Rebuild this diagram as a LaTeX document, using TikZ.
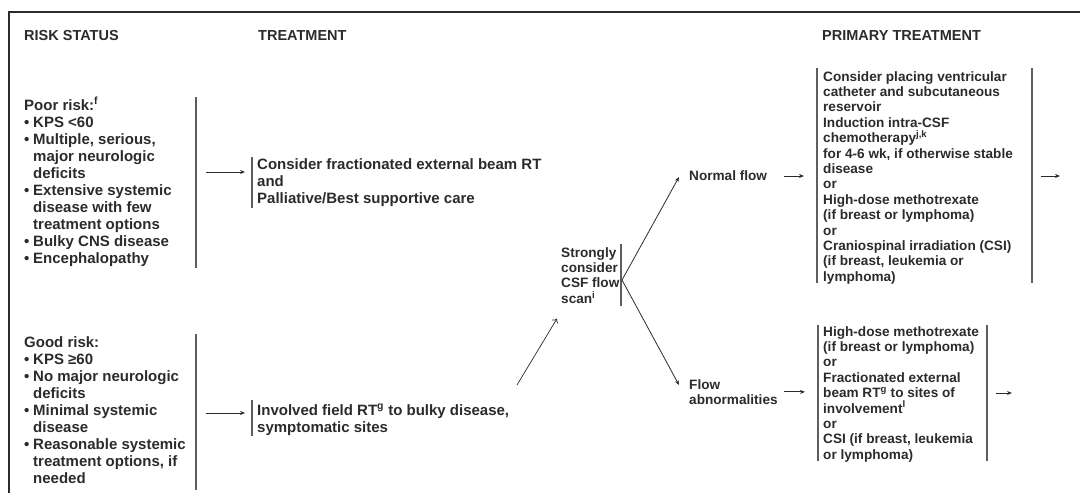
\documentclass[tikz,border=0pt]{standalone}
\usepackage{fontspec}
\setmainfont{Liberation Sans}
\usetikzlibrary{arrows.meta,calc}

\definecolor{ink}{HTML}{2B2B2B}
\definecolor{rule}{HTML}{5E5E5E}

\newcommand{\bul}{\makebox[9pt][l]{\textbullet}}
\newcommand{\ind}{\hspace*{9pt}}

\tikzset{
  txt/.style={font=\bfseries\fontsize{15}{17}\selectfont, text=ink, align=left,
    inner sep=0pt, anchor=north west},
  small/.style={txt, font=\bfseries\fontsize{13.6}{15.4}\selectfont},
  head/.style={txt, font=\bfseries\fontsize{14.5}{16}\selectfont},
  bar/.style={draw=rule, line width=1.3pt},
  frame/.style={draw=ink, line width=2pt},
  arr/.style={-{Stealth[length=5pt,width=4pt]}, draw=ink, line width=0.8pt},
  openarr/.style={-{To[length=4pt,width=7pt]}, draw=ink, line width=0.7pt}
}

\begin{document}
\begin{tikzpicture}[x=1pt,y=-1pt]
  \useasboundingbox (0,0) rectangle (1080,493);
  \draw[frame] (9,493) -- (9,12) -- (1080,12);

  % column heads
  \node[head] (hrisk) at (24,30) {RISK STATUS};
  \node[head] (htreat) at (258,30) {TREATMENT};
  \node[head] (hprim) at (822,30) {PRIMARY TREATMENT};

  % risk status
  \node[txt] (poor) at (24,97) {Poor risk:\textsuperscript{f}\\
    \bul KPS <60\\
    \bul Multiple, serious,\\
    \ind major neurologic\\
    \ind deficits\\
    \bul Extensive systemic\\
    \ind disease with few\\
    \ind treatment options\\
    \bul Bulky CNS disease\\
    \bul Encephalopathy};
  \node[txt] (good) at (24,336) {Good risk:\\
    \bul KPS ≥60\\
    \bul No major neurologic\\
    \ind deficits\\
    \bul Minimal systemic\\
    \ind disease\\
    \bul Reasonable systemic\\
    \ind treatment options, if\\
    \ind needed};
  \draw[bar] (196,97) -- (196,268);
  \draw[bar] (196,334) -- (196,490);
  \coordinate (pbar) at (196,172);
  \coordinate (gbar) at (196,413);

  % treatment
  \node[txt] (trtpoor) at (257,158) {Consider fractionated external beam RT\\
    and\\
    Palliative/Best supportive care};
  \node[txt] (trtgood) at (257,404) {Involved field RT\textsuperscript{g} to bulky disease,\\
    symptomatic sites};
  \draw[bar] (252,157) -- (252,208);
  \draw[bar] (252,400) -- (252,436);
  \draw[arr] ([xshift=10pt]pbar) -- ($(trtpoor.west |- pbar)+(-12,0)$);
  \draw[arr] ([xshift=10pt]gbar) -- ($(trtgood.west |- gbar)+(-12,0)$);

  % csf flow scan
  \node[small] (scan) at (561,247) {Strongly\\
    consider\\
    CSF flow\\
    scan\textsuperscript{i}};
  \draw[bar] (621,244) -- (621,306);
  \coordinate (gstart) at (517,385);
  \coordinate (fork) at (622,280);
  \draw[openarr] (gstart) -- ($(scan.south west)+(-4,15)$);

  \node[small, anchor=west] (normal) at (689,176) {Normal flow};
  \node[small] (abnorm) at (689,379) {Flow\\
    abnormalities};
  \draw[arr] (fork) -- ($(normal.west)+(-10,1)$);
  \draw[arr] (fork) -- ($(abnorm.north west)+(-10,6)$);

  % primary treatment
  \node[small] (primnorm) at (823,71) {Consider placing ventricular\\
    catheter and subcutaneous\\
    reservoir\\
    Induction intra-CSF\\
    chemotherapy\textsuperscript{j,k}\\
    for 4-6 wk, if otherwise stable\\
    disease\\
    or\\
    High-dose methotrexate\\
    (if breast or lymphoma)\\
    or\\
    Craniospinal irradiation (CSI)\\
    (if breast, leukemia or\\
    lymphoma)};
  \node[small] (primab) at (823,326) {High-dose methotrexate\\
    (if breast or lymphoma)\\
    or\\
    Fractionated external\\
    beam RT\textsuperscript{g} to sites of\\
    involvement\textsuperscript{l}\\
    or\\
    CSI (if breast, leukemia\\
    or lymphoma)};
  \draw[bar] (817,68) -- (817,283);
  \draw[bar] (1032,68) -- (1032,283);
  \draw[bar] (818,325) -- (818,461);
  \draw[bar] (987,325) -- (987,461);
  \coordinate (nout) at (1032,176);
  \coordinate (aout) at (987,393);
  \draw[arr] ($(normal.east)+(17,0)$) -- ($(primnorm.west |- normal.east)+(-19,0)$);
  \draw[arr] ($(abnorm.east)+(6,0)$) -- ($(primab.west |- abnorm.east)+(-18,0)$);
  \draw[arr] ([xshift=9pt]nout) -- ++(19,0);
  \draw[arr] ([xshift=9pt]aout) -- ++(16,0);
\end{tikzpicture}
\end{document}
